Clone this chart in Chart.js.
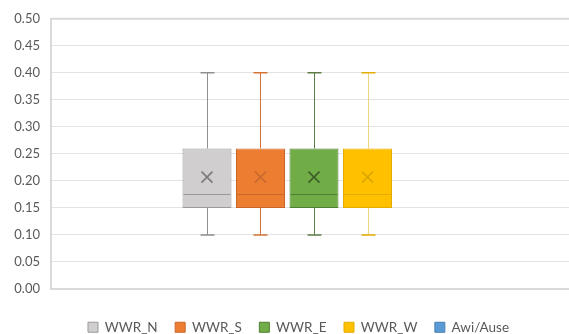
<!DOCTYPE html>
<html>
<head>
<meta charset="utf-8">
<script src="https://cdn.jsdelivr.net/npm/chart.js@4/dist/chart.umd.min.js"></script>
<style>
  html, body { margin: 0; padding: 0; background: #fff; overflow: hidden; }
  #wrap { position: relative; width: 598px; height: 346px; }
</style>
</head>
<body>
<div id="wrap"><canvas id="c" width="598" height="346"></canvas></div>
<script>
// Series shown as box-and-whisker marks
const seriesNames = ['WWR_N', 'WWR_S', 'WWR_E', 'WWR_W', 'Awi/Ause'];
const minValues    = [0.10, 0.10, 0.10, 0.10, null];
const q1Values     = [0.15, 0.15, 0.15, 0.15, null];
const medianValues = [0.175, 0.175, 0.175, 0.175, null];
const q3Values     = [0.26, 0.26, 0.26, 0.26, null];
const maxValues    = [0.40, 0.40, 0.40, 0.40, null];
const meanValues   = [0.207, 0.207, 0.207, 0.207, null];

// Value axis
const yMin = 0, yMax = 0.5, yStep = 0.05;

// Styling per series
const fillColors    = ['#D0CECE', '#ED7D31', '#70AD47', '#FFC000', '#5B9BD5'];
const edgeColors    = ['#9b9999', '#c9672b', '#4f7f33', '#e3ac00', '#4a7fb0'];
const whiskerColors = ['#8f8f8f', '#d57435', '#5c7d48', '#f0d47e', '#5B9BD5'];
const capColors     = ['#8f8f8f', '#d57435', '#5c7d48', '#e2ad00', '#5B9BD5'];
const meanColors    = ['#7a7a7a', '#c86a2e', '#3d5e2a', '#dca600', '#41719c'];

const datasets = seriesNames.map((name, i) => ({
  label: name,
  data: q1Values[i] == null ? [null] : [[q1Values[i], q3Values[i]]],
  backgroundColor: fillColors[i],
  borderColor: edgeColors[i],
  borderWidth: 1,
  borderSkipped: false,
  categoryPercentage: 0.5086,
  barPercentage: 0.916
}));

// Whiskers, caps, median lines and mean markers
const boxPlotMarks = {
  id: 'boxPlotMarks',
  beforeDatasetsDraw(chart) {
    const ctx = chart.ctx, y = chart.scales.y;
    ctx.save();
    seriesNames.forEach((n, i) => {
      if (q1Values[i] == null) return;
      const el = chart.getDatasetMeta(i).data[0];
      const x = Math.round(el.x) + 0.5;
      const capHalf = 7;
      ctx.lineWidth = 1;
      ctx.strokeStyle = whiskerColors[i];
      ctx.beginPath();
      ctx.moveTo(x, y.getPixelForValue(q3Values[i]));
      ctx.lineTo(x, y.getPixelForValue(maxValues[i]));
      ctx.moveTo(x, y.getPixelForValue(q1Values[i]));
      ctx.lineTo(x, y.getPixelForValue(minValues[i]));
      ctx.stroke();
      ctx.strokeStyle = capColors[i];
      ctx.lineWidth = 1.5;
      ctx.beginPath();
      const yt = y.getPixelForValue(maxValues[i]);
      const yb = y.getPixelForValue(minValues[i]);
      ctx.moveTo(x - capHalf, yt); ctx.lineTo(x + capHalf, yt);
      ctx.moveTo(x - capHalf, yb); ctx.lineTo(x + capHalf, yb);
      ctx.stroke();
    });
    ctx.restore();
  },
  afterDatasetsDraw(chart) {
    const ctx = chart.ctx, y = chart.scales.y;
    ctx.save();
    seriesNames.forEach((n, i) => {
      if (q1Values[i] == null) return;
      const el = chart.getDatasetMeta(i).data[0];
      const x = el.x, half = el.width / 2;
      ctx.strokeStyle = edgeColors[i];
      ctx.lineWidth = 1.2;
      const ym = Math.round(y.getPixelForValue(medianValues[i])) + 0.5;
      ctx.beginPath();
      ctx.moveTo(x - half + 1, ym); ctx.lineTo(x + half - 1, ym);
      ctx.stroke();
      const yMean = y.getPixelForValue(meanValues[i]);
      const s = 5.5;
      ctx.strokeStyle = meanColors[i];
      ctx.lineWidth = 1.6;
      ctx.beginPath();
      ctx.moveTo(x - s, yMean - s); ctx.lineTo(x + s, yMean + s);
      ctx.moveTo(x + s, yMean - s); ctx.lineTo(x - s, yMean + s);
      ctx.stroke();
    });
    ctx.restore();
  }
};

// Plot-area frame
const plotFrame = {
  id: 'plotFrame',
  beforeDatasetsDraw(chart) {
    const a = chart.chartArea, ctx = chart.ctx;
    ctx.save();
    ctx.strokeStyle = '#d9d9d9';
    ctx.lineWidth = 2;
    ctx.strokeRect(a.left, a.top, a.right - a.left, a.bottom - a.top);
    ctx.restore();
  }
};

// Centre the legend row under the value-axis labels plus plot area
const legendOffset = {
  id: 'legendOffset',
  afterLayout(chart) {
    if (chart.legend) { chart.legend.left += 20; }
  }
};

new Chart(document.getElementById('c'), {
  type: 'bar',
  data: { labels: [''], datasets },
  plugins: [plotFrame, boxPlotMarks, legendOffset],
  options: {
    responsive: false,
    animation: false,
    layout: { padding: { top: 17, right: 21, left: 0, bottom: 2 } },
    plugins: {
      tooltip: { enabled: false },
      legend: {
        position: 'bottom',
        labels: {
          boxWidth: 10,
          boxHeight: 10,
          padding: 17.5,
          color: '#595959',
          font: { family: 'Lato', size: 13.5 }
        }
      }
    },
    scales: {
      x: {
        afterFit(s) { s.height = 14; },
        grid: { display: false, drawTicks: false },
        border: { display: false },
        ticks: { display: false }
      },
      y: {
        min: yMin,
        max: yMax,
        afterFit(s) { s.width = 51; },
        ticks: {
          stepSize: yStep,
          padding: 11,
          color: '#595959',
          font: { family: 'Lato', size: 13 },
          callback: v => Number(v).toFixed(2)
        },
        grid: { color: '#e3e3e3', lineWidth: 1, drawTicks: false },
        border: { display: false }
      }
    }
  }
});
</script>
</body>
</html>
